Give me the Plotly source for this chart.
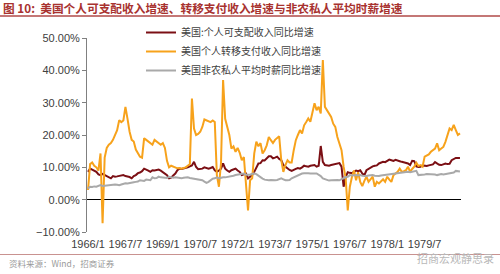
import plotly.graph_objects as go

# ---- data (monthly, 1966/1 - 1980/12), YoY % ----
months = [f"{y}/{m}" for y in range(1966, 1981) for m in range(1, 13)]

tick_labels = ["1966/1", "1967/7", "1969/1", "1970/7", "1972/1",
               "1973/7", "1975/1", "1976/7", "1978/1", "1979/7"]

disposable_income = [
    8.6, 9.6, 9.3, 9.0, 8.6, 7.8, 7.6, 8.0, 7.6, 7.3, 7.0, 6.6,
    7.3, 7.1, 7.2, 7.4, 7.5, 7.6, 7.3, 7.2, 7.0, 6.6, 7.3, 7.6,
    8.2, 8.4, 8.8, 9.6, 9.4, 9.0, 8.6, 9.1, 9.0, 9.1, 9.3, 9.0,
    8.6, 8.2, 7.6, 6.6, 6.8, 7.5, 8.1, 9.1, 9.6, 9.5, 9.6, 9.9,
    10.0, 10.3, 10.6, 11.7, 10.1, 9.4, 9.5, 9.6, 10.0, 9.8, 9.6, 9.8,
    10.1, 9.1, 8.6, 9.0, 9.6, 11.2, 9.6, 9.0, 8.6, 9.1, 9.3, 9.6,
    9.0, 8.6, 7.6, 7.9, 8.1, 6.6, 7.1, 7.6, 8.6, 10.1, 11.2, 11.3,
    12.2, 12.1, 12.9, 13.4, 13.4, 12.8, 13.0, 13.3, 12.6, 12.2, 10.7, 10.2,
    9.6, 9.2, 8.9, 9.3, 9.5, 9.8, 9.6, 10.0, 10.5, 10.3, 10.2, 10.5,
    10.6, 10.7, 10.2, 10.5, 16.6, 11.7, 10.7, 10.6, 10.5, 10.7, 10.8, 11.0,
    11.1, 11.3, 10.2, 4.0, 7.0, 8.5, 8.3, 8.2, 8.6, 9.0, 8.8, 9.1,
    8.1, 7.6, 9.1, 9.6, 10.0, 10.3, 10.5, 10.6, 11.2, 11.4, 11.7, 11.6,
    11.9, 12.4, 12.2, 12.0, 12.3, 12.2, 11.9, 11.7, 11.5, 11.3, 11.2, 10.7,
    12.0, 11.9, 10.3, 10.1, 10.2, 10.6, 10.5, 10.4, 10.6, 10.8, 10.9, 11.6,
    11.2, 10.8, 10.7, 11.0, 11.2, 11.0, 11.1, 12.2, 12.5, 12.9, 12.9, 12.9,
]

transfer_income = [
    3.0, 11.0, 11.5, 10.5, 10.0, 9.0, 14.3, -7.3, 13.0, 16.0, 17.0, 17.5,
    18.5, 20.0, 21.5, 24.6, 24.0, 24.5, 28.7, 25.0, 21.0, 18.5, 18.0, 15.5,
    14.5, 13.3, 13.0, 19.0, 18.5, 18.0, 17.5, 17.0, 18.5, 18.0, 17.5, 17.0,
    17.5, 16.0, 12.0, 10.0, 10.5, 10.3, 10.0, 9.7, 9.8, 9.6, 9.8, 10.0,
    10.5, 11.0, 31.3, 22.0, 20.0, 20.3, 21.0, 22.5, 24.8, 24.5, 24.4, 24.0,
    24.5, 24.0, 7.6, 4.0, 11.4, 37.0, 25.0, 22.0, 20.0, 15.8, 16.5, 14.8,
    16.0, 14.5, 12.2, 13.2, 4.0, -3.3, 6.0, 6.6, 14.3, 17.9, 16.5, 17.5,
    14.3, 15.3, 16.8, 19.4, 18.4, 17.5, 18.5, 19.0, 19.6, 12.2, 8.6, 10.7,
    12.2, 11.5, 11.5, 15.3, 18.4, 20.0, 21.5, 20.5, 23.0, 24.0, 25.1, 24.1,
    27.2, 29.8, 27.7, 28.7, 26.7, 43.2, 28.7, 27.7, 26.5, 25.6, 23.5, 22.5,
    19.4, 17.0, 15.3, 10.2, 6.6, -3.3, 4.0, 7.0, 9.0, 6.0, 8.5, 5.5,
    4.2, 5.8, 7.1, 5.5, 6.5, 7.1, 4.0, 5.5, 5.0, 5.8, 6.3, 5.5,
    7.1, 6.2, 5.5, 7.6, 8.0, 8.6, 9.6, 8.6, 8.8, 9.1, 10.2, 8.6,
    9.5, 10.2, 11.4, 10.4, 10.7, 10.2, 13.3, 13.6, 14.0, 14.8, 15.3, 15.8,
    17.4, 15.3, 15.8, 16.3, 17.9, 20.0, 22.0, 21.5, 23.1, 21.5, 20.0, 20.5,
]

hourly_earnings = [
    3.5, 4.0, 3.9, 4.1, 4.0, 4.2, 4.5, 4.2, 4.3, 4.5, 4.4, 4.5,
    4.6, 4.7, 4.6, 4.5, 4.7, 4.9, 5.1, 5.0, 5.2, 5.3, 5.4, 5.5,
    5.6, 6.0, 5.9, 5.8, 6.2, 6.1, 6.0, 6.9, 6.6, 6.7, 7.1, 6.9,
    6.8, 6.7, 6.7, 7.1, 6.9, 6.8, 6.9, 6.8, 6.6, 6.6, 6.8, 6.9,
    6.9, 6.7, 6.6, 6.6, 6.5, 6.3, 6.1, 6.0, 5.6, 5.2, 5.5, 5.9,
    6.5, 6.6, 6.9, 6.6, 6.8, 6.9, 6.9, 7.0, 7.0, 7.2, 7.4, 7.6,
    7.7, 7.9, 8.0, 8.1, 7.7, 7.6, 7.7, 8.0, 8.1, 7.9, 7.4, 6.9,
    6.5, 6.2, 6.0, 6.0, 6.1, 6.0, 6.0, 6.1, 6.4, 6.6, 6.3, 6.0,
    6.0, 6.1, 6.6, 6.9, 7.1, 7.6, 7.8, 8.1, 8.2, 8.3, 8.2, 8.1,
    8.2, 8.1, 8.1, 7.8, 7.3, 6.6, 6.3, 6.0, 5.9, 6.0, 6.1, 6.0,
    6.1, 6.0, 6.3, 6.8, 7.0, 7.1, 7.6, 7.5, 7.6, 7.6, 7.5, 7.6,
    7.4, 7.3, 7.3, 7.5, 7.6, 7.6, 7.4, 7.3, 7.3, 7.5, 7.6, 7.6,
    7.7, 7.8, 7.9, 8.0, 8.1, 8.2, 8.3, 8.4, 8.5, 8.6, 8.6, 8.5,
    8.6, 8.8, 8.9, 7.6, 7.6, 7.6, 7.8, 7.9, 7.9, 8.0, 8.0, 7.8,
    7.6, 7.8, 7.9, 7.8, 7.9, 7.9, 8.0, 8.1, 8.4, 8.9, 8.8, 8.7,
]

series_names = ["美国:个人可支配收入同比增速", "美国个人转移支付收入同比增速", "美国非农私人平均时薪同比增速"]
series_colors = ["#7b0f14", "#f7a21b", "#a9a9a9"]

# ---- figure ----
W, H = 500, 274
L, R, T, B = 87, 39, 38, 42
PW, PH = W - L - R, H - T - B


def px(xpix):
    return (xpix - L) / PW


def py(ypix):
    return (H - B - ypix) / PH


fig = go.Figure()
for name, vals, col in zip(series_names, [disposable_income, transfer_income, hourly_earnings], series_colors):
    fig.add_trace(go.Scatter(x=months, y=vals, mode="lines", name=name,
                             line=dict(color=col, width=2)))

font_cjk = "Noto Sans CJK SC"
fig.update_layout(
    width=W, height=H, autosize=False,
    margin=dict(l=L, r=R, t=T, b=B),
    paper_bgcolor="white", plot_bgcolor="white",
    font=dict(family="Liberation Sans, Arial", size=11, color="#404040"),
    showlegend=True,
    legend=dict(x=px(141), y=py(18), xanchor="left", yanchor="top",
                bgcolor="rgba(0,0,0,0)", font=dict(family=font_cjk, size=10, color="#404040"),
                tracegroupgap=0, itemwidth=30),
    title=dict(text="<b>图 10:  美国个人可支配收入增速、转移支付收入增速与非农私人平均时薪增速</b>",
               x=0.006, xref="container", xanchor="left",
               y=1 - 8.5 / H, yref="container", yanchor="middle",
               font=dict(family=font_cjk, size=11.7, color="#a8322f")),
    xaxis=dict(type="category", range=[-0.5, len(months) - 0.5],
               tickmode="array", tickvals=tick_labels, ticktext=tick_labels,
               showline=False, ticks="", showgrid=False, zeroline=False,
               ticklabelstandoff=4,
               tickfont=dict(size=11, color="#404040")),
    yaxis=dict(range=[-10, 50], dtick=10, tick0=0, tickformat=".2f", ticksuffix="%",
               showline=True, linecolor="#808080", linewidth=1,
               ticks="outside", ticklen=4, tickcolor="#808080",
               showgrid=False, zeroline=True, zerolinecolor="#000000", zerolinewidth=1,
               tickfont=dict(size=11, color="#404040")),
    shapes=[
        dict(type="line", xref="paper", yref="paper", x0=px(0), x1=px(W), y0=py(16), y1=py(16),
             line=dict(color="#b04a48", width=1.5)),
        dict(type="line", xref="paper", yref="paper", x0=px(0), x1=px(W), y0=py(254.5), y1=py(254.5),
             line=dict(color="#c99290", width=1)),
    ],
    annotations=[
        dict(text="资料来源：Wind，招商证券", xref="paper", yref="paper", x=px(7), y=py(263),
             xanchor="left", yanchor="middle", showarrow=False,
             font=dict(family=font_cjk, size=8.5, color="#9a9a9a")),
        dict(text="招商宏观静思录", xref="paper", yref="paper", x=px(496), y=py(258),
             xanchor="right", yanchor="middle", showarrow=False,
             font=dict(family=font_cjk, size=11, color="#b8b8b8")),
    ],
)

fig.write_html("out.html")
